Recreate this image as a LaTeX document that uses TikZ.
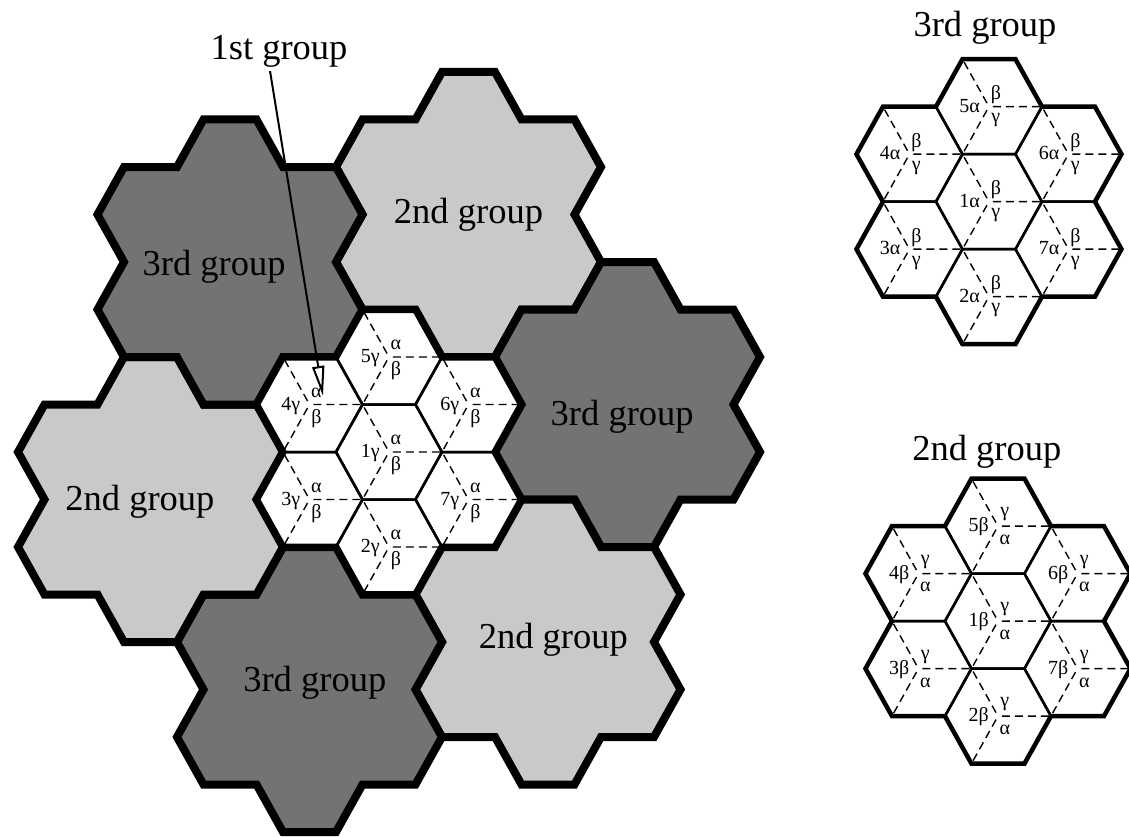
\documentclass[tikz,border=0pt]{standalone}
\usepackage{fontspec}
\setmainfont{Liberation Serif}
\usetikzlibrary{arrows.meta}
\definecolor{grisdos}{gray}{0.79}
\definecolor{gristres}{gray}{0.45}

% grupo gris de 7 celdas (solo contorno)
\newcommand{\grupo}[2]{%
  \begin{scope}[shift={(#1)}]
    \filldraw[#2] (-0.5,3) -- (0.5,3) -- (1,2) -- (2,2) -- (2.5,1) -- (2,0) -- (2.5,-1) -- (2,-2) -- (1,-2)
      -- (0.5,-3) -- (-0.5,-3) -- (-1,-2) -- (-2,-2) -- (-2.5,-1) -- (-2,0) -- (-2.5,1) -- (-2,2) -- (-1,2) -- cycle;
  \end{scope}}

% grupo con celdas y sectores: centro, nombre, letra, arriba, abajo, borde
\newcommand{\celdas}[6]{%
  \begin{scope}[shift={(#1)}]
    \fill[white] (-0.5,3) -- (0.5,3) -- (1,2) -- (2,2) -- (2.5,1) -- (2,0) -- (2.5,-1) -- (2,-2) -- (1,-2)
      -- (0.5,-3) -- (-0.5,-3) -- (-1,-2) -- (-2,-2) -- (-2.5,-1) -- (-2,0) -- (-2.5,1) -- (-2,2) -- (-1,2) -- cycle;
    \foreach \n/\a/\b in {1/0/0,5/0/2,2/0/-2,4/-1.5/1,6/1.5/1,3/-1.5/-1,7/1.5/-1}{
      \draw[celda] (\a+1,\b) -- (\a+0.5,\b+1) -- (\a-0.5,\b+1) -- (\a-1,\b) -- (\a-0.5,\b-1) -- (\a+0.5,\b-1) -- cycle;
      \draw[sector] (\a,\b) -- (\a+1,\b) (\a,\b) -- (\a-0.5,\b+1) (\a,\b) -- (\a-0.5,\b-1);
      \node[num, anchor=base east] (#2\n-num) at (\a-0.17,\b-0.12) {\n#3};
      \node[num] (#2\n-sup) at (\a+0.13,\b+0.25) {#4};
      \node[num] (#2\n-inf) at (\a+0.13,\b-0.29) {#5};
    }
    \draw[line width=#6] (-0.5,3) -- (0.5,3) -- (1,2) -- (2,2) -- (2.5,1) -- (2,0) -- (2.5,-1) -- (2,-2) -- (1,-2)
      -- (0.5,-3) -- (-0.5,-3) -- (-1,-2) -- (-2,-2) -- (-2.5,-1) -- (-2,0) -- (-2.5,1) -- (-2,2) -- (-1,2) -- cycle;
  \end{scope}}

\begin{document}
\begin{tikzpicture}[
  x=53pt, y=47.5pt,
  dos/.style={fill=grisdos, draw=black, line width=8pt},
  tres/.style={fill=gristres, draw=black, line width=8pt},
  celda/.style={line width=2.5pt},
  sector/.style={line width=1.4pt, dash pattern=on 8pt off 5pt, dash phase=9pt},
  num/.style={font=\fontsize{20}{21}\selectfont, inner sep=0pt},
  grande/.style={font=\fontsize{36.5}{40}\selectfont},
  flecha/.style={line width=2pt, -{Triangle[length=30pt,width=12pt,fill=white]}}
]
\useasboundingbox (-7.3396,9.5158) rectangle (13.9623,-8.0842);
\clip (-7.3396,9.5158) rectangle (13.9623,-8.0842);
\fill[white] (-7.3396,9.5158) rectangle (13.9623,-8.0842);

% grupos alrededor
\grupo{1.5,5}{dos}
\grupo{4.5,1}{tres}
\grupo{3,-4}{dos}
\grupo{-1.5,-5}{tres}
\grupo{-4.5,-1}{dos}
\grupo{-3,4}{tres}
\node[grande] (etqA) at (1.5,5) {2nd group};
\node[grande] (etqB) at (4.4,0.74) {3rd group};
\node[grande] (etqC) at (3.1,-3.95) {2nd group};
\node[grande] (etqD) at (-1.4,-4.85) {3rd group};
\node[grande] (etqE) at (-4.7,-1.05) {2nd group};
\node[grande] (etqF) at (-3.3,3.9) {3rd group};

% 1st group
\celdas{0,0}{c}{γ}{α}{β}{7pt}

% grupos de la derecha
\node[grande] (titTres) at (11.245,8.93) {3rd group};
\celdas{11.32,5.27}{t}{α}{β}{γ}{4.5pt}
\node[grande] (titDos) at (11.28,0) {2nd group};
\celdas{11.49,-3.56}{d}{β}{γ}{α}{4.5pt}

% flecha
\node[grande] (primero) at (-2.075,8.43) {1st group};
\coordinate (punta) at (-1.245,1.18);
\draw[flecha] ([xshift=-9pt]primero.south) -- (punta);
\end{tikzpicture}
\end{document}
